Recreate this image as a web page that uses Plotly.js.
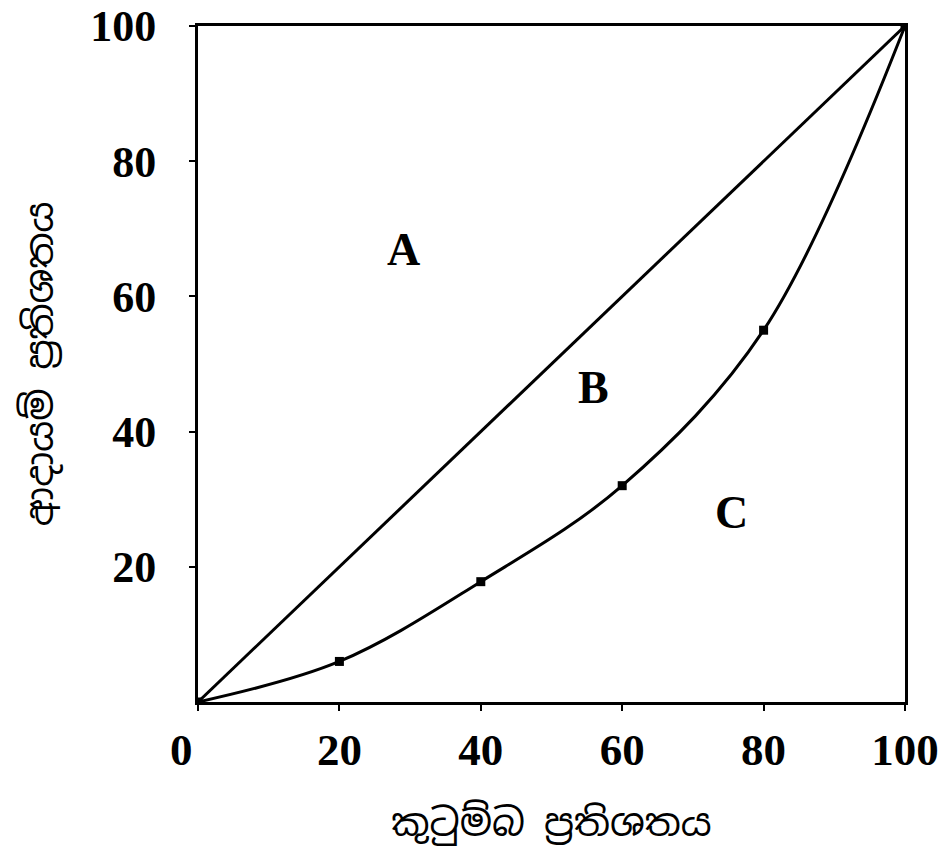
<!DOCTYPE html>
<html>
<head>
<meta charset="utf-8">
<script src="https://cdn.plot.ly/plotly-3.0.1.min.js"></script>
<style>html,body{margin:0;padding:0;background:#fff;}#chart{width:949px;height:865px;}</style>
</head>
<body>
<div id="chart"></div>
<script>
// Data
const householdPct = [0, 20, 40, 60, 80, 100];
const incomePct = [0, 6, 17.8, 32, 55, 100];
const equalityX = [0, 100];
const equalityY = [0, 100];
const tickVals = [0, 20, 40, 60, 80, 100];
const xTickText = ["0\u00a0\u00a0\u00a0", "20", "40", "60", "80", "100"];
const yTickVals = [20, 40, 60, 80, 100];
const yTickText = ["20", "40", "60", "80", "100"];
const regionLabels = ["A", "B", "C"];
const regionX = [29, 56, 75.5];
const regionY = [67, 46.5, 28];
const xTitle = "කුටුම්බ ප්‍රතිශතය";
const yTitle = "ආදායම් ප්‍රතිශතය";

const serif = "Liberation Serif, Times New Roman, serif";
const sinhala = "Noto Sans Sinhala, Noto Serif Sinhala, Iskoola Pota, Noto Sans, DejaVu Sans, sans-serif";

const traces = [
  {x: equalityX, y: equalityY, mode: "lines", line: {color: "#000", width: 3}, hoverinfo: "skip", showlegend: false},
  {x: householdPct, y: incomePct, mode: "lines+markers", line: {color: "#000", width: 3, shape: "spline", smoothing: 1},
   marker: {symbol: "square", size: 9, color: "#000"}, showlegend: false}
];

const layout = {
  width: 949, height: 865,
  margin: {l: 198, r: 44, t: 26, b: 163},
  paper_bgcolor: "#fff", plot_bgcolor: "#fff",
  showlegend: false,
  font: {family: serif, color: "#000"},
  xaxis: {
    range: [0, 100], showgrid: false, zeroline: false,
    showline: true, linecolor: "#000", linewidth: 3, mirror: true,
    ticks: "outside", ticklen: 6, tickwidth: 2, tickcolor: "#000",
    tickvals: tickVals, ticktext: xTickText, ticklabeloverflow: "allow",
    tickfont: {family: serif, size: 45, color: "#000", weight: "bold"},
    title: {text: xTitle, font: {family: sinhala, size: 38, color: "#000"}, standoff: 36}
  },
  yaxis: {
    range: [0, 100], showgrid: false, zeroline: false,
    showline: true, linecolor: "#000", linewidth: 3, mirror: true,
    ticks: "outside", ticklen: 6, tickwidth: 2, tickcolor: "#000",
    tickvals: yTickVals, ticktext: yTickText, ticklabeloverflow: "allow",
    ticklabelstandoff: 24,
    tickfont: {family: serif, size: 44, color: "#000", weight: "bold"},
    title: {text: yTitle, font: {family: sinhala, size: 38, color: "#000"}, standoff: 25}
  },
  annotations: regionLabels.map((t, i) => ({
    x: regionX[i], y: regionY[i], xref: "x", yref: "y", text: t, showarrow: false,
    font: {family: serif, size: 46, color: "#000", weight: "bold"}
  }))
};

Plotly.newPlot("chart", traces, layout, {displayModeBar: false, staticPlot: true});
</script>
</body>
</html>
